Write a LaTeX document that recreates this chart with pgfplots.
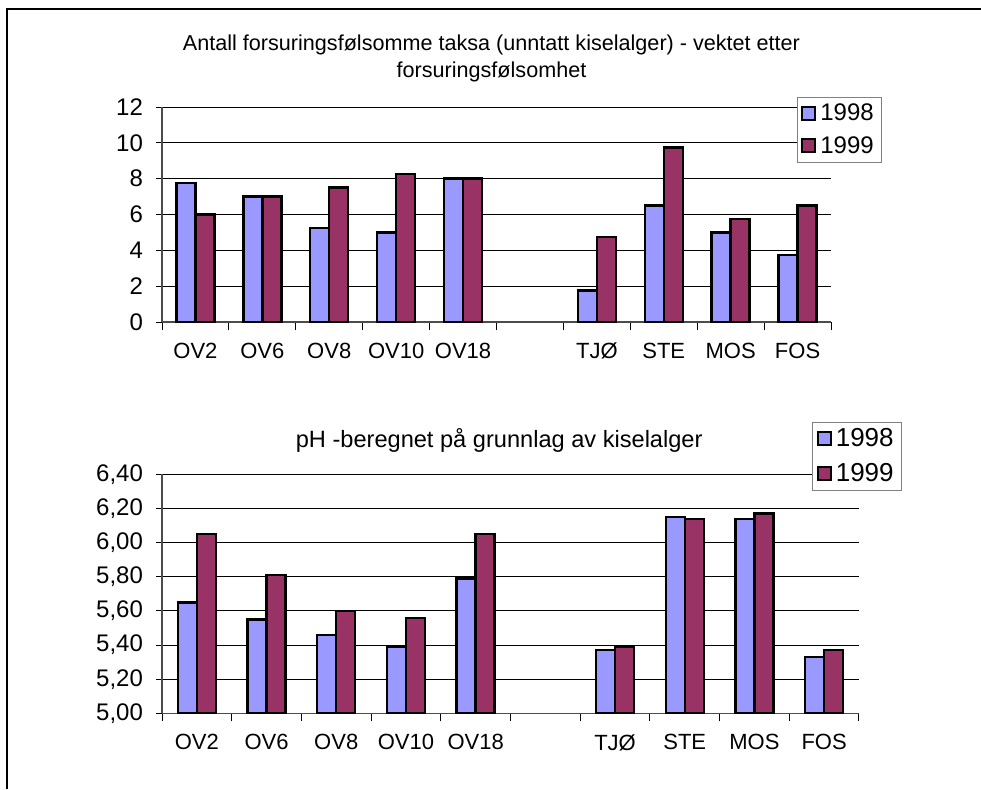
\documentclass[border=0pt]{standalone}
\usepackage{pgfplots}
\pgfplotsset{compat=1.18}
\usepackage{fontspec}
\setmainfont{Liberation Sans}
\definecolor{c98}{HTML}{9999FF}
\definecolor{c99}{HTML}{993366}
\definecolor{legbox}{HTML}{808080}

\pgfplotsset{
  excelbars/.style={
    scale only axis,
    ybar=0pt,
    bar width=9.5pt,
    xmin=-0.5, xmax=9.5,
    xtick={0,...,9},
    xticklabels={OV2,OV6,OV8,OV10,OV18,,TJØ,STE,MOS,FOS},
    minor xtick={-0.5,0.5,...,9.5},
    major x tick style={draw=none},
    minor x tick style={black, line width=0.5pt},
    tick align=outside,
    major tick length=3pt,
    minor tick length=4pt,
    axis lines*=left,
    axis line style={-, black!70, line width=0.6pt},
    ytick style={black, line width=0.5pt},
    ymajorgrids,
    grid style={black, line width=0.5pt},
    xticklabel style={yshift=-4pt, font=\fontsize{11}{13}\selectfont},
    yticklabel style={xshift=-3pt, font=\fontsize{12}{14}\selectfont},
    /pgf/number format/assume math mode=true,
    legend cell align=left,
    legend style={draw=legbox, line width=0.5pt, font=\fontsize{12}{14}\selectfont,
      inner xsep=2pt, inner ysep=1pt, row sep=2.5pt},
    legend image code/.code={
      \draw[#1, draw=black, line width=1pt] (0pt,-3pt) rectangle (6.5pt,3.5pt);
    },
    every axis plot/.append style={draw=black, line width=1.2pt},
  }
}

\begin{document}
\begin{tikzpicture}
\useasboundingbox (0,0) rectangle (490.5pt,-394.5pt);
\draw[line width=1pt] (3.5pt,-394.5pt) -- (3.5pt,-4.5pt) -- (490.5pt,-4.5pt);

% upper chart
\begin{axis}[
  excelbars,
  at={(81pt,-161pt)}, anchor=south west,
  width=334.5pt, height=107.5pt,
  ymin=0, ymax=12, ytick={0,2,...,12},
  title={Antall forsuringsfølsomme taksa (unntatt kiselalger) - vektet etter\\forsuringsfølsomhet},
  title style={at={(axis description cs:0.4925,1.172)}, anchor=center, align=center,
    font=\fontsize{10.8}{13.5}\selectfont},
  legend style={at={(axis description cs:0.949,1.045)}, anchor=north west},
]
\addplot[fill=c98] coordinates {(0,7.75) (1,7) (2,5.25) (3,5) (4,8) (6,1.75) (7,6.5) (8,5) (9,3.75)};
\addplot[fill=c99] coordinates {(0,6) (1,7) (2,7.5) (3,8.25) (4,8) (6,4.75) (7,9.75) (8,5.75) (9,6.5)};
\legend{1998,1999}
\end{axis}

% lower chart
\begin{axis}[
  excelbars,
  at={(81pt,-356.65pt)}, anchor=south west,
  width=348.5pt, height=119.5pt,
  ymin=5, ymax=6.4, ytick={5,5.2,...,6.4},
  yticklabel style={/pgf/number format/.cd, fixed, fixed zerofill, precision=2, use comma},
  title={pH -beregnet på grunnlag av kiselalger},
  title style={at={(axis description cs:0.4838,1.093)}, anchor=center,
    font=\fontsize{11.8}{14}\selectfont},
  legend style={at={(axis description cs:0.933,1.219)}, anchor=north west,
    font=\fontsize{13}{15}\selectfont, row sep=3pt},
]
\addplot[fill=c98] coordinates {(0,5.65) (1,5.55) (2,5.46) (3,5.39) (4,5.79) (6,5.37) (7,6.15) (8,6.14) (9,5.33)};
\addplot[fill=c99] coordinates {(0,6.05) (1,5.81) (2,5.60) (3,5.56) (4,6.05) (6,5.39) (7,6.14) (8,6.17) (9,5.37)};
\legend{1998,1999}
\end{axis}
\end{tikzpicture}
\end{document}
